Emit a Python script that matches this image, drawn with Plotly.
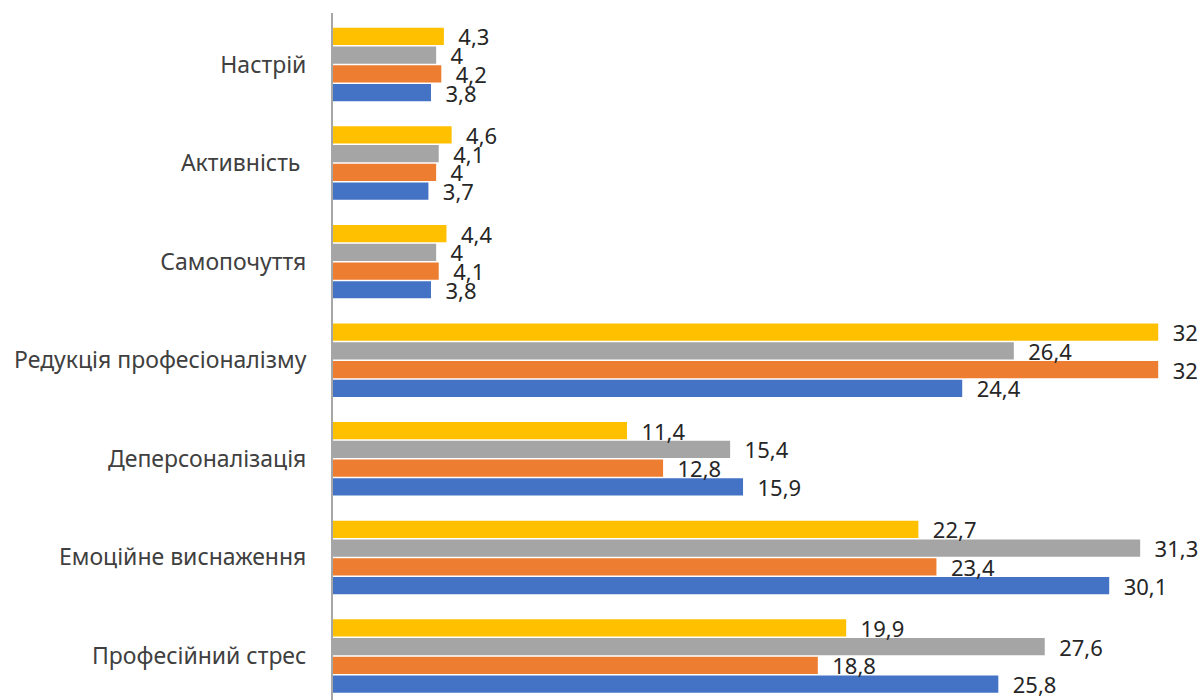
import plotly.graph_objects as go

categories = ["Професійний стрес", "Емоційне виснаження", "Деперсоналізація",
              "Редукція професіоналізму", "Самопочуття", "Активність\u00a0", "Настрій"]

blue_vals = [25.8, 30.1, 15.9, 24.4, 3.8, 3.7, 3.8]
orange_vals = [18.8, 23.4, 12.8, 32, 4.1, 4.0, 4.2]
gray_vals = [27.6, 31.3, 15.4, 26.4, 4.0, 4.1, 4.0]
yellow_vals = [19.9, 22.7, 11.4, 32, 4.4, 4.6, 4.3]

series = [
    ("s1", blue_vals, "#4472C4"),
    ("s2", orange_vals, "#ED7D31"),
    ("s3", gray_vals, "#A5A5A5"),
    ("s4", yellow_vals, "#FFC000"),
]


def fmt(v):
    s = ("%g" % v)
    return s.replace(".", ",")


fig = go.Figure()
for name, vals, color in series:
    fig.add_trace(go.Bar(
        y=categories, x=vals, name=name, orientation="h",
        marker=dict(color=color, line=dict(width=0)),
        text=[fmt(v) for v in vals], textposition="outside",
        texttemplate="\u00a0\u00a0%{text}",
        constraintext="none",
        textfont=dict(family="Noto Sans", size=22, color="#262626"),
        cliponaxis=False,
    ))

fig.update_layout(
    width=1204, height=700,
    margin=dict(l=333, r=20, t=13, b=0),
    barmode="group", bargap=0.24, bargroupgap=0.08,
    showlegend=False,
    plot_bgcolor="white", paper_bgcolor="white",
    font=dict(family="Noto Sans", size=22, color="#404040"),
)
fig.update_xaxes(range=[0, 33], visible=False, showgrid=False, zeroline=False)
fig.update_yaxes(
    type="category", range=[-0.446, 6.522], showgrid=False, zeroline=False,
    showline=True, linecolor="#A6A6A6", linewidth=2, ticks="",
    ticklabelstandoff=20,
    tickfont=dict(family="Noto Sans", size=23, color="#404040"),
)

fig.write_html("out.html")
